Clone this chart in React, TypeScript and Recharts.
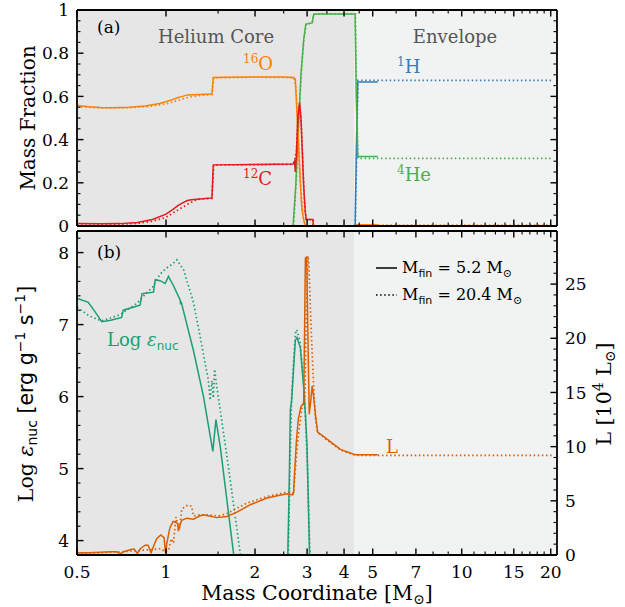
import React from 'react';
import { LineChart, Line, XAxis, YAxis, ReferenceArea } from 'recharts';

const SERIF = '"DejaVu Serif", serif';
const SANS = '"DejaVu Sans", sans-serif';

const ORANGE = '#ff7f00';
const RED = '#e41a1c';
const BLUE = '#377eb8';
const GREEN = '#4daf4a';
const TEAL = '#1b9e77';
const DARK_ORANGE = '#d95f02';
const CORE_BG = '#e6e6e6';
const ENV_BG = '#f1f2f2';

// tick positions
const xMajor = [0.5, 1, 2, 3, 4, 5, 7, 10, 15, 20];
const xMinor = [1.5, 2.5, 3.5, 4.5, 6, 8, 9, 11, 12, 13, 14, 16, 17, 18, 19];
const fracMajor = [0, 0.2, 0.4, 0.6, 0.8, 1];
const fracMinor = [0.05, 0.1, 0.15, 0.25, 0.3, 0.35, 0.45, 0.5, 0.55, 0.65, 0.7, 0.75, 0.85, 0.9, 0.95];
const epsMajor = [4, 5, 6, 7, 8];
const epsMinor = [3.8, 4.2, 4.4, 4.6, 4.8, 5.2, 5.4, 5.6, 5.8, 6.2, 6.4, 6.6, 6.8, 7.2, 7.4, 7.6, 7.8, 8.2];
const lumMajor = [0, 5, 10, 15, 20, 25];
const lumMinor = [1, 2, 3, 4, 6, 7, 8, 9, 11, 12, 13, 14, 16, 17, 18, 19, 21, 22, 23, 24, 26, 27, 28, 29];

const CORE_EDGE = 4.34;

// panel (a): mass fractions, [mass coordinate, value]
const o16Solid = [
  [0.5, 0.558], [0.55, 0.552], [0.6, 0.549], [0.65, 0.548], [0.75, 0.55], [0.85, 0.556],
  [0.95, 0.567], [1.0, 0.575], [1.05, 0.585], [1.1, 0.595], [1.13, 0.599], [1.18, 0.607],
  [1.3, 0.609], [1.43, 0.611], [1.445, 0.688], [1.6, 0.689], [2.0, 0.69], [2.5, 0.69],
  [2.7, 0.688], [2.737, 0.68], [2.79, 0.45], [2.84, 0.22], [2.88, 0.08], [2.92, 0.03],
  [2.96, 0.0], [4.36, 0.0], [4.42, 0.006], [5.2, 0.006],
];
const o16Dotted = [
  [0.5, 0.553], [0.6, 0.546], [0.75, 0.547], [0.9, 0.555], [1.0, 0.565], [1.1, 0.582],
  [1.2, 0.597], [1.3, 0.604], [1.43, 0.609], [1.45, 0.686], [2.0, 0.689], [2.7, 0.687],
  [2.75, 0.64], [2.8, 0.42], [2.85, 0.2], [2.9, 0.05], [2.96, 0.0], [4.36, 0.0],
  [4.42, 0.004], [20.4, 0.004],
];
const c12Solid = [
  [0.5, 0.012], [0.6, 0.01], [0.7, 0.011], [0.8, 0.016], [0.9, 0.03], [1.0, 0.055],
  [1.05, 0.075], [1.1, 0.095], [1.13, 0.105], [1.18, 0.118], [1.22, 0.122], [1.3, 0.125],
  [1.43, 0.13], [1.445, 0.283], [2.0, 0.285], [2.69, 0.287], [2.72, 0.3], [2.737, 0.25],
  [2.76, 0.33], [2.79, 0.5], [2.83, 0.57], [2.86, 0.5], [2.88, 0.4], [2.92, 0.19],
  [2.96, 0.06], [2.98, 0.03], [3.14, 0.03], [3.15, 0.0], [4.36, 0.0],
];
const c12Dotted = [
  [0.5, 0.01], [0.7, 0.008], [0.8, 0.012], [0.9, 0.022], [1.0, 0.04], [1.1, 0.075],
  [1.18, 0.1], [1.25, 0.118], [1.3, 0.124], [1.43, 0.128], [1.45, 0.282], [2.0, 0.284],
  [2.69, 0.286], [2.72, 0.3], [2.76, 0.35], [2.8, 0.52], [2.83, 0.56], [2.86, 0.5],
  [2.9, 0.3], [2.94, 0.1], [2.98, 0.03], [3.14, 0.03], [3.15, 0.0], [4.36, 0.0],
];
const he4Solid = [
  [2.69, 0.0], [2.75, 0.2], [2.8, 0.45], [2.86, 0.7], [2.92, 0.86], [2.97, 0.935],
  [3.12, 0.94], [3.16, 0.98], [3.3, 0.982], [4.36, 0.982], [4.4, 0.6], [4.45, 0.322],
  [5.2, 0.322],
];
const he4Dotted = [
  [2.7, 0.0], [2.76, 0.22], [2.81, 0.47], [2.87, 0.72], [2.93, 0.87], [2.98, 0.935],
  [3.12, 0.94], [3.16, 0.98], [3.3, 0.982], [4.37, 0.982], [4.41, 0.6], [4.46, 0.313],
  [20.4, 0.313],
];
const h1Solid = [[3.2, 0.0], [4.36, 0.0], [4.41, 0.4], [4.45, 0.667], [5.2, 0.667]];
const h1Dotted = [[3.2, 0.0], [4.37, 0.0], [4.42, 0.4], [4.46, 0.674], [20.4, 0.674]];

// panel (b): Log eps_nuc (left axis) and L in 1e4 Lsun (right axis)
const epsSolid = [
  [0.5, 7.36], [0.505, 7.36], [0.546, 7.31], [0.575, 7.18], [0.606, 7.04], [0.65, 7.06],
  [0.708, 7.1], [0.717, 7.2], [0.817, 7.27], [0.83, 7.43], [0.907, 7.45], [0.919, 7.62],
  [0.955, 7.61], [0.993, 7.57], [1.019, 7.67], [1.06, 7.54], [1.117, 7.34], [1.12, 7.28],
  [1.125, 7.32], [1.238, 6.64], [1.339, 6.0], [1.44, 5.24], [1.475, 5.68], [1.525, 5.31],
  [1.691, 3.83], [1.7, 3.75], [2.0, null], [2.58, 3.75], [2.61, 4.8], [2.633, 5.81],
  [2.66, 5.95], [2.737, 6.78], [2.774, 6.82], [2.846, 6.68], [2.919, 6.14], [2.96, 5.77],
  [2.998, 5.31], [3.06, 3.75],
];
const epsDotted = [
  [0.5, 7.24], [0.55, 7.12], [0.606, 7.05], [0.7, 7.14], [0.8, 7.3], [0.85, 7.42],
  [0.9, 7.52], [0.955, 7.7], [1.0, 7.78], [1.05, 7.84], [1.088, 7.9], [1.15, 7.75],
  [1.176, 7.61], [1.238, 7.31], [1.305, 6.83], [1.39, 6.23], [1.41, 5.95], [1.43, 6.22],
  [1.445, 5.98], [1.46, 6.38], [1.486, 6.13], [1.607, 5.17], [1.782, 3.83], [1.79, 3.75],
  [2.0, null], [2.59, 3.75], [2.625, 5.0], [2.66, 6.0], [2.7, 6.5], [2.74, 6.88],
  [2.77, 6.93], [2.84, 6.75], [2.92, 6.2], [2.97, 5.6], [3.01, 5.0], [3.07, 3.75],
];
const lumSolid = [
  [0.5, 0.2], [0.55, 0.2], [0.6, 0.25], [0.65, 0.3], [0.68, 0.3], [0.7, 0.12], [0.72, 0.3],
  [0.76, 0.5], [0.78, 0.55], [0.8, 0.15], [0.82, 0.6], [0.85, 0.9], [0.87, 0.9], [0.89, 0.2],
  [0.91, 0.9], [0.93, 1.5], [0.96, 1.85], [0.985, 1.6], [0.995, 0.3], [1.0, 0.15],
  [1.005, 1.0], [1.03, 2.5], [1.057, 3.1], [1.08, 3.0], [1.095, 2.9], [1.101, 2.2],
  [1.11, 2.6], [1.13, 3.2], [1.176, 3.4], [1.238, 3.3], [1.3, 3.6], [1.339, 3.71],
  [1.4, 3.6], [1.486, 3.45], [1.55, 3.5], [1.607, 3.56], [1.75, 4.0], [1.927, 4.64],
  [2.194, 5.26], [2.4, 5.5], [2.566, 5.66], [2.68, 5.55], [2.7, 5.7], [2.72, 7.5],
  [2.76, 10.5], [2.8, 12.5], [2.86, 13.7], [2.92, 14.0], [2.94, 20.0], [2.96, 27.4],
  [2.99, 27.5], [3.02, 20.0], [3.05, 13.0], [3.08, 14.0], [3.12, 15.6], [3.16, 14.5],
  [3.2, 13.0], [3.256, 11.35], [3.505, 10.7], [3.888, 9.75], [4.31, 9.3], [4.41, 9.25],
  [5.2, 9.25],
];
const lumDotted = [
  [0.5, 0.15], [0.6, 0.2], [0.7, 0.3], [0.8, 0.4], [0.9, 0.5], [0.96, 0.6], [0.99, 0.3],
  [1.02, 0.4], [1.04, 1.5], [1.06, 1.1], [1.08, 3.5], [1.11, 2.3], [1.13, 4.2],
  [1.16, 4.5], [1.19, 4.6], [1.22, 4.5], [1.238, 3.6], [1.3, 3.7], [1.4, 3.7], [1.5, 3.6],
  [1.6, 3.8], [1.88, 4.8], [2.2, 5.4], [2.57, 5.8], [2.7, 5.7], [2.74, 8.0], [2.8, 11.0],
  [2.88, 13.5], [2.95, 14.5], [2.98, 22.0], [3.02, 27.6], [3.04, 27.0], [3.076, 23.0],
  [3.117, 19.0], [3.157, 15.6], [3.2, 12.6], [3.256, 11.3], [3.505, 10.6], [3.888, 9.7],
  [4.31, 9.25], [4.41, 9.2], [20.4, 9.2],
];

const pts = (arr: (number | null)[][]) => arr.map(([m, v]) => ({ m, v }));

type Side = 'bottom' | 'top' | 'left' | 'right';
const isIn = (list: number[], v: number) => list.some((t) => Math.abs(t - v) < 1e-6);

function axisTick(side: Side, major: number[], label?: (v: number) => string) {
  return (props: any) => {
    const { x, y, payload } = props;
    const v = payload.value as number;
    const big = isIn(major, v);
    const len = big ? 6.5 : 3.5;
    let x2 = x;
    let y2 = y;
    if (side === 'bottom') y2 = y - len;
    if (side === 'top') y2 = y + len;
    if (side === 'left') x2 = x + len;
    if (side === 'right') x2 = x - len;
    let txt = null;
    if (label && big) {
      const s = label(v);
      const common = { fontFamily: SERIF, fontSize: 17, fill: '#000' };
      if (side === 'bottom') txt = <text x={x} y={y + 23} textAnchor="middle" {...common}>{s}</text>;
      if (side === 'left') txt = <text x={x - 8} y={y} dy="0.36em" textAnchor="end" {...common}>{s}</text>;
      if (side === 'right') txt = <text x={x + 8} y={y} dy="0.36em" textAnchor="start" {...common}>{s}</text>;
    }
    return (
      <g>
        <line x1={x} y1={y} x2={x2} y2={y2} stroke="#000" strokeWidth={big ? 1.4 : 1.1} />
        {txt}
      </g>
    );
  };
}

const fracFmt = (v: number) => (v === 0 ? '0' : v === 1 ? '1' : v.toFixed(1));
const intFmt = (v: number) => String(v);

const xTicks = [...xMajor, ...xMinor].sort((a, b) => a - b);
const fracTicks = [...fracMajor, ...fracMinor].sort((a, b) => a - b);
const epsTicks = [...epsMajor, ...epsMinor].sort((a, b) => a - b);
const lumTicks = [...lumMajor, ...lumMinor].sort((a, b) => a - b);

const axisStroke = { stroke: '#000', strokeWidth: 1.8 };

function lineProps(color: string, dotted: boolean) {
  return {
    type: 'linear' as const,
    dataKey: 'v',
    stroke: color,
    strokeWidth: dotted ? 1.7 : 1.5,
    strokeDasharray: dotted ? '1.5 2.6' : undefined,
    dot: false,
    activeDot: false,
    isAnimationActive: false,
    connectNulls: false,
  };
}

function TopPanel() {
  return (
    <LineChart width={625} height={240} margin={{ top: 9, right: 67, bottom: 13, left: 76 }}>
      <XAxis xAxisId="b" dataKey="m" type="number" scale="log" domain={[0.5, 21]}
        allowDataOverflow ticks={xTicks} interval={0} height={1} tickSize={0} tickMargin={0}
        tickLine={false} axisLine={axisStroke} tick={axisTick('bottom', xMajor)} />
      <XAxis xAxisId="t" orientation="top" dataKey="m" type="number" scale="log"
        domain={[0.5, 21]} allowDataOverflow ticks={xTicks} interval={0} height={1} tickSize={0}
        tickMargin={0} tickLine={false} axisLine={axisStroke} tick={axisTick('top', xMajor)} />
      <YAxis yAxisId="f" type="number" domain={[0, 1]} allowDataOverflow ticks={fracTicks}
        interval={0} width={1} tickSize={0} tickMargin={0} tickLine={false} axisLine={axisStroke}
        tick={axisTick('left', fracMajor, fracFmt)} />
      <YAxis yAxisId="fr" orientation="right" type="number" domain={[0, 1]} allowDataOverflow
        ticks={fracTicks} interval={0} width={1} tickSize={0} tickMargin={0} tickLine={false}
        axisLine={axisStroke} tick={axisTick('right', fracMajor)} />
      <ReferenceArea xAxisId="b" yAxisId="f" x1={0.5} x2={CORE_EDGE} fill={CORE_BG} fillOpacity={1} stroke="none" />
      <ReferenceArea xAxisId="b" yAxisId="f" x1={CORE_EDGE} x2={21} fill={ENV_BG} fillOpacity={1} stroke="none" />
      <Line xAxisId="b" yAxisId="f" data={pts(h1Dotted)} {...lineProps(BLUE, true)} />
      <Line xAxisId="b" yAxisId="f" data={pts(h1Solid)} {...lineProps(BLUE, false)} />
      <Line xAxisId="b" yAxisId="f" data={pts(he4Dotted)} {...lineProps(GREEN, true)} />
      <Line xAxisId="b" yAxisId="f" data={pts(he4Solid)} {...lineProps(GREEN, false)} />
      <Line xAxisId="b" yAxisId="f" data={pts(o16Dotted)} {...lineProps(ORANGE, true)} />
      <Line xAxisId="b" yAxisId="f" data={pts(o16Solid)} {...lineProps(ORANGE, false)} />
      <Line xAxisId="b" yAxisId="f" data={pts(c12Dotted)} {...lineProps(RED, true)} />
      <Line xAxisId="b" yAxisId="f" data={pts(c12Solid)} {...lineProps(RED, false)} />
    </LineChart>
  );
}

function BottomPanel() {
  return (
    <LineChart width={625} height={381} margin={{ top: 4, right: 67, bottom: 51, left: 76 }}>
      <XAxis xAxisId="b" dataKey="m" type="number" scale="log" domain={[0.5, 21]}
        allowDataOverflow ticks={xTicks} interval={0} height={1} tickSize={0} tickMargin={0}
        tickLine={false} axisLine={axisStroke} tick={axisTick('bottom', xMajor, intFmt)} />
      <XAxis xAxisId="t" orientation="top" dataKey="m" type="number" scale="log"
        domain={[0.5, 21]} allowDataOverflow ticks={xTicks} interval={0} height={1} tickSize={0}
        tickMargin={0} tickLine={false} axisLine={axisStroke} tick={axisTick('top', xMajor)} />
      <YAxis yAxisId="eps" type="number" domain={[3.8, 8.3]} allowDataOverflow ticks={epsTicks}
        interval={0} width={1} tickSize={0} tickMargin={0} tickLine={false} axisLine={axisStroke}
        tick={axisTick('left', epsMajor, intFmt)} />
      <YAxis yAxisId="lum" orientation="right" type="number" domain={[0, 29.9]} allowDataOverflow
        ticks={lumTicks} interval={0} width={1} tickSize={0} tickMargin={0} tickLine={false}
        axisLine={axisStroke} tick={axisTick('right', lumMajor, intFmt)} />
      <ReferenceArea xAxisId="b" yAxisId="eps" x1={0.5} x2={CORE_EDGE} fill={CORE_BG} fillOpacity={1} stroke="none" />
      <ReferenceArea xAxisId="b" yAxisId="eps" x1={CORE_EDGE} x2={21} fill={ENV_BG} fillOpacity={1} stroke="none" />
      <Line xAxisId="b" yAxisId="eps" data={pts(epsDotted)} {...lineProps(TEAL, true)} />
      <Line xAxisId="b" yAxisId="eps" data={pts(epsSolid)} {...lineProps(TEAL, false)} />
      <Line xAxisId="b" yAxisId="lum" data={pts(lumDotted)} {...lineProps(DARK_ORANGE, true)} />
      <Line xAxisId="b" yAxisId="lum" data={pts(lumSolid)} {...lineProps(DARK_ORANGE, false)} />
    </LineChart>
  );
}

function Sun() {
  return <tspan fontSize={11} dy={4}>⊙</tspan>;
}

function Overlay() {
  const t = { fontFamily: SERIF, fill: '#000' };
  return (
    <svg width={625} height={607} style={{ position: 'absolute', left: 0, top: 0, pointerEvents: 'none' }}>
      {/* panel a */}
      <text x={97} y={33} fontSize={17} {...t}>(a)</text>
      <text x={216} y={43} fontSize={18} textAnchor="middle" fontFamily={SERIF} fill="#555">Helium Core</text>
      <text x={455} y={43} fontSize={18} textAnchor="middle" fontFamily={SERIF} fill="#555">Envelope</text>
      <text x={243} y={70} fontFamily={SERIF} fill={ORANGE} fontSize={18}>
        <tspan fontSize={12} dy={-7}>16</tspan><tspan dy={7}>O</tspan>
      </text>
      <text x={243} y={185} fontFamily={SERIF} fill={RED} fontSize={18}>
        <tspan fontSize={12} dy={-7}>12</tspan><tspan dy={7}>C</tspan>
      </text>
      <text x={397} y={73} fontFamily={SERIF} fill={BLUE} fontSize={18}>
        <tspan fontSize={12} dy={-7}>1</tspan><tspan dy={7}>H</tspan>
      </text>
      <text x={397} y={181} fontFamily={SERIF} fill={GREEN} fontSize={18}>
        <tspan fontSize={12} dy={-7}>4</tspan><tspan dy={7}>He</tspan>
      </text>
      <text x={35} y={118} fontSize={20} textAnchor="middle" transform="rotate(-90 35 118)" {...t}>Mass Fraction</text>

      {/* panel b */}
      <text x={97} y={258} fontSize={17} {...t}>(b)</text>
      <text x={107} y={346} fontFamily={SERIF} fill={TEAL} fontSize={18}>
        Log <tspan fontStyle="italic">ε</tspan><tspan fontFamily={SANS} fontSize={12} dy={4}>nuc</tspan>
      </text>
      <text x={386} y={453} fontFamily={SERIF} fill={DARK_ORANGE} fontSize={18}>L</text>

      <line x1={376} y1={268} x2={397} y2={268} stroke="#000" strokeWidth={1.5} />
      <line x1={376} y1={295} x2={397} y2={295} stroke="#000" strokeWidth={1.7} strokeDasharray="1.5 2.6" />
      <text x={402} y={273} fontSize={16} {...t}>
        M<tspan fontFamily={SANS} fontSize={11} dy={4}>fin</tspan><tspan dy={-4}> = 5.2 M</tspan><Sun />
      </text>
      <text x={402} y={300} fontSize={16} {...t}>
        M<tspan fontFamily={SANS} fontSize={11} dy={4}>fin</tspan><tspan dy={-4}> = 20.4 M</tspan><Sun />
      </text>

      <text x={33} y={394} fontSize={20.5} textAnchor="middle" transform="rotate(-90 33 394)" {...t}>
        Log <tspan fontStyle="italic">ε</tspan><tspan fontFamily={SANS} fontSize={14} dy={4}>nuc</tspan>
        <tspan fontFamily={SANS} dy={-4}> [erg g</tspan><tspan fontFamily={SANS} fontSize={14} dy={-8}>−1</tspan>
        <tspan fontFamily={SANS} dy={8}> s</tspan><tspan fontFamily={SANS} fontSize={14} dy={-8}>−1</tspan>
        <tspan fontFamily={SANS} dy={8}>]</tspan>
      </text>
      <text x={611} y={394} fontSize={20.5} textAnchor="middle" transform="rotate(-90 611 394)" {...t}>
        L [10<tspan fontSize={14} dy={-8}>4</tspan><tspan dy={8}> L</tspan><tspan fontSize={14} dy={4}>⊙</tspan><tspan dy={-4}>]</tspan>
      </text>
      <text x={317} y={600} fontSize={20.5} textAnchor="middle" {...t}>
        Mass Coordinate [M<tspan fontSize={14} dy={4}>⊙</tspan><tspan dy={-4}>]</tspan>
      </text>
    </svg>
  );
}

export default function App() {
  return (
    <div style={{ position: 'absolute', left: 0, top: 0, width: 625, height: 607, background: '#fff' }}>
      <div style={{ position: 'absolute', left: 0, top: 0 }}>
        <TopPanel />
      </div>
      <div style={{ position: 'absolute', left: 0, top: 226 }}>
        <BottomPanel />
      </div>
      <Overlay />
    </div>
  );
}
